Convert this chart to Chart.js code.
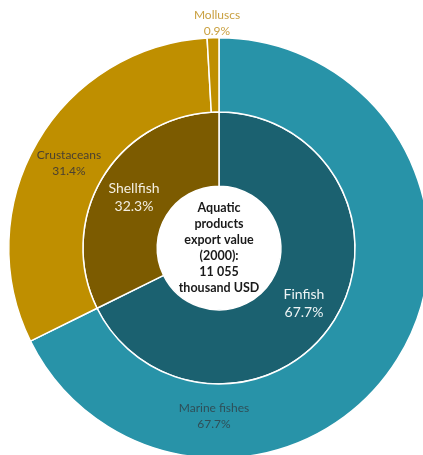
<!DOCTYPE html>
<html>
<head>
<meta charset="utf-8">
<script src="https://cdn.jsdelivr.net/npm/chart.js@4"></script>
<style>
  html, body { margin: 0; padding: 0; background: #fff; overflow: hidden; }
  #wrap { position: absolute; left: 0; top: 0; width: 438px; height: 496px; }
</style>
</head>
<body>
<div id="wrap"><canvas id="chart"></canvas></div>
<script>
// outer ring: species groups
var outerLabels = ['Marine fishes', 'Crustaceans', 'Molluscs'];
var outerValues = [67.7, 31.4, 0.9];
// inner ring: main groups
var innerLabels = ['Finfish', 'Shellfish'];
var innerValues = [67.7, 32.3];
var centerLines = ['Aquatic', 'products', 'export value', '(2000):', '11 055', 'thousand USD'];

var font = 'Lato, "Open Sans", sans-serif';

// where each label sits, as offset from the chart centre
var labelStyle = {
  outer: [
    { dx: -5, dy: 168, color: '#2f4f58', size: 12 },
    { dx: -150, dy: -85, color: '#4a4030', size: 12 },
    { dx: -2, dy: -225, color: '#c9a040', size: 12 }
  ],
  inner: [
    { dx: 85, dy: 55, color: '#eef4f5', size: 14 },
    { dx: -85, dy: -51, color: '#f3eee0', size: 14 }
  ]
};

var ringLabels = {
  id: 'ringLabels',
  afterDatasetsDraw: function(chart) {
    var ctx = chart.ctx;
    var arc = chart.getDatasetMeta(0).data[0];
    var cx = arc.x, cy = arc.y;
    ctx.save();
    ctx.textAlign = 'center';
    ctx.textBaseline = 'middle';
    function put(names, values, styles) {
      for (var i = 0; i < names.length; i++) {
        var s = styles[i];
        ctx.fillStyle = s.color;
        ctx.font = s.size + 'px ' + font;
        var lh = s.size + 4;
        ctx.fillText(names[i], cx + s.dx, cy + s.dy - lh / 2);
        ctx.fillText(values[i].toFixed(1) + '%', cx + s.dx, cy + s.dy + lh / 2);
      }
    }
    put(outerLabels, outerValues, labelStyle.outer);
    put(innerLabels, innerValues, labelStyle.inner);

    ctx.fillStyle = '#1a1a1a';
    ctx.font = 'bold 12.5px ' + font;
    var lh = 16;
    var y0 = cy - lh * (centerLines.length - 1) / 2;
    for (var j = 0; j < centerLines.length; j++) {
      ctx.fillText(centerLines[j], cx, y0 + j * lh);
    }
    ctx.restore();
  }
};

var ctx = document.getElementById('chart').getContext('2d');
var chart = new Chart(ctx, {
  type: 'doughnut',
  data: {
    datasets: [{
      label: 'Species',
      data: outerValues,
      backgroundColor: ['#2893a8', '#bf8f00', '#bf8f00'],
      borderColor: '#ffffff',
      borderWidth: 1.5
    }, {
      label: 'Group',
      data: innerValues,
      backgroundColor: ['#1b6170', '#7c5b00'],
      borderColor: '#ffffff',
      borderWidth: 1.5
    }]
  },
  options: {
    responsive: true,
    maintainAspectRatio: false,
    animation: false,
    cutout: '29.4%',
    layout: { padding: { left: 8, right: 8, top: 37, bottom: 37 } },
    plugins: {
      legend: { display: false },
      tooltip: { enabled: false }
    }
  },
  plugins: [ringLabels]
});
</script>
</body>
</html>
